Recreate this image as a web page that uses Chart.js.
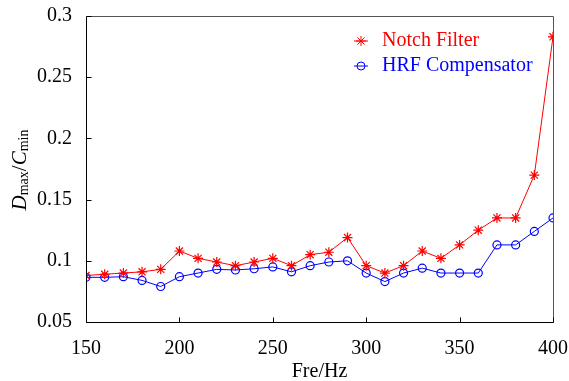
<!DOCTYPE html>
<html>
<head>
<meta charset="utf-8">
<script src="https://cdn.jsdelivr.net/npm/chart.js@4/dist/chart.umd.min.js"></script>
<style>
  html, body { margin: 0; padding: 0; background: #fff; }
  #wrap { width: 569px; height: 381px; position: relative; }
</style>
</head>
<body>
<div id="wrap"><canvas id="c" width="569" height="381"></canvas></div>
<script>
const freqs = [150,160,170,180,190,200,210,220,230,240,250,260,270,280,290,300,310,320,330,340,350,360,370,380,390,400];
const notchFilter = [0.088,0.089,0.090,0.091,0.093,0.108,0.102,0.099,0.096,0.099,0.102,0.096,0.105,0.107,0.119,0.096,0.090,0.096,0.108,0.102,0.113,0.125,0.135,0.135,0.170,0.283];
const hrfCompensator = [0.0865,0.0865,0.087,0.084,0.079,0.087,0.090,0.093,0.0925,0.0935,0.095,0.091,0.096,0.099,0.100,0.090,0.083,0.090,0.094,0.090,0.090,0.090,0.113,0.113,0.124,0.135];
const seriesNames = ["Notch Filter", "HRF Compensator"];
const xTicks = [150,200,250,300,350,400];
const yTicks = [0.05,0.1,0.15,0.2,0.25,0.3];
const xTitle = "Fre/Hz";

const FONT = "'Liberation Serif', 'Times New Roman', serif";
const RED = "#ff0000";
const BLUE = "#0000ff";

const framePlugin = {
  id: 'frame',
  afterDatasetsDraw(chart) {
    const ctx = chart.ctx;
    const a = chart.chartArea;
    const xs = chart.scales.x, ys = chart.scales.y;
    const L = Math.round(a.left) + 0.5, R = Math.round(a.right) + 0.5;
    const T = Math.round(a.top) + 0.5, B = Math.round(a.bottom) + 0.5;
    ctx.save();
    ctx.lineWidth = 1;
    // top/right border (grey, no ticks)
    ctx.strokeStyle = '#555';
    ctx.beginPath();
    ctx.moveTo(L, T); ctx.lineTo(R, T); ctx.lineTo(R, B);
    ctx.stroke();
    // bottom/left axes (black) with inward ticks
    ctx.strokeStyle = '#000';
    ctx.beginPath();
    ctx.moveTo(L, T); ctx.lineTo(L, B); ctx.lineTo(R, B);
    const tl = 5;
    xTicks.forEach(v => {
      const px = Math.round(xs.getPixelForValue(v)) + 0.5;
      ctx.moveTo(px, B); ctx.lineTo(px, B - tl);
    });
    yTicks.forEach(v => {
      const py = Math.round(ys.getPixelForValue(v)) + 0.5;
      ctx.moveTo(L, py); ctx.lineTo(L + tl, py);
    });
    ctx.stroke();

    // x title
    ctx.fillStyle = '#000';
    ctx.font = "20px " + FONT;
    ctx.textAlign = 'center';
    ctx.textBaseline = 'middle';
    ctx.fillText(xTitle, (a.left + a.right) / 2, 372);

    // y title: D_max / C_min
    ctx.save();
    ctx.translate(20, 170);
    ctx.rotate(-Math.PI / 2);
    const big = "italic 21px " + FONT;
    const norm = "21px " + FONT;
    const small = "14px " + FONT;
    const parts = [
      {t: "D", f: big, dy: 0},
      {t: "max", f: small, dy: 4},
      {t: "/", f: norm, dy: 0},
      {t: "C", f: big, dy: 0},
      {t: "min", f: small, dy: 4}
    ];
    let total = 0;
    parts.forEach(p => { ctx.font = p.f; p.w = ctx.measureText(p.t).width; total += p.w; });
    let x = -total / 2;
    ctx.textAlign = 'left';
    ctx.textBaseline = 'middle';
    parts.forEach(p => { ctx.font = p.f; ctx.fillText(p.t, x, p.dy); x += p.w; });
    ctx.restore();

    // legend
    const items = [
      {name: seriesNames[0], color: RED, style: 'star', r: 5, y: 41},
      {name: seriesNames[1], color: BLUE, style: 'circle', r: 4, y: 66}
    ];
    items.forEach(it => {
      ctx.strokeStyle = it.color;
      ctx.lineWidth = 1;
      ctx.beginPath();
      ctx.moveTo(354, it.y); ctx.lineTo(368, it.y);
      ctx.stroke();
      ctx.fillStyle = 'rgba(0,0,0,0)';
      Chart.helpers.drawPoint(ctx, {pointStyle: it.style, radius: it.r, borderWidth: 1.2}, 361, it.y);
      ctx.fillStyle = it.color;
      ctx.font = "20px " + FONT;
      ctx.textAlign = 'left';
      ctx.textBaseline = 'middle';
      ctx.fillText(it.name, 382, it.y);
    });
    ctx.restore();
  }
};

new Chart(document.getElementById('c'), {
  type: 'line',
  data: {
    datasets: [
      {
        label: seriesNames[0],
        data: freqs.map((f, i) => ({x: f, y: notchFilter[i]})),
        borderColor: RED, backgroundColor: 'transparent',
        borderWidth: 1, pointStyle: 'star', pointRadius: 5,
        pointBorderColor: RED, pointBorderWidth: 1.2, tension: 0
      },
      {
        label: seriesNames[1],
        data: freqs.map((f, i) => ({x: f, y: hrfCompensator[i]})),
        borderColor: BLUE, backgroundColor: 'transparent',
        borderWidth: 1, pointStyle: 'circle', pointRadius: 4,
        pointBorderColor: BLUE, pointBackgroundColor: 'transparent', pointBorderWidth: 1.2, tension: 0
      }
    ]
  },
  options: {
    responsive: false,
    animation: false,
    layout: { padding: { top: 16, right: 16, left: 0, bottom: 0 } },
    plugins: { legend: { display: false }, tooltip: { enabled: false } },
    scales: {
      x: {
        type: 'linear', min: 150, max: 400,
        afterBuildTicks: s => { s.ticks = xTicks.map(v => ({value: v})); },
        afterFit: s => { s.height = 59; s.paddingLeft = 0; s.paddingRight = 0; },
        grid: { display: false },
        border: { display: false },
        ticks: { color: '#000', font: { family: FONT, size: 20 }, padding: 7, maxRotation: 0,
                 callback: v => String(v) }
      },
      y: {
        type: 'linear', min: 0.05, max: 0.3,
        afterBuildTicks: s => { s.ticks = yTicks.map(v => ({value: v})); },
        afterFit: s => { s.width = 86; s.paddingTop = 0; s.paddingBottom = 0; },
        grid: { display: false },
        border: { display: false },
        ticks: { color: '#000', font: { family: FONT, size: 20 }, padding: 6,
                 callback: v => String(Number(v.toFixed(2))) }
      }
    }
  },
  plugins: [framePlugin]
});
</script>
</body>
</html>
